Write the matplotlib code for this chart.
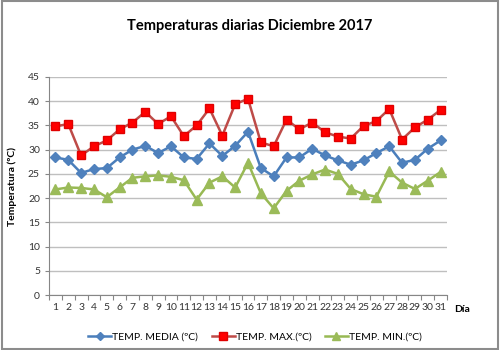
#!/usr/bin/env python3
"""Daily temperatures for December 2017: mean, max and min per day."""

import matplotlib
matplotlib.use("Agg")
import matplotlib.pyplot as plt
from matplotlib.patches import Rectangle

plt.rcParams["font.family"] = ["Lato", "DejaVu Sans"]

dias = list(range(1, 32))

temp_media = [28.4, 27.9, 25.2, 26.0, 26.2, 28.4, 30.0, 30.8, 29.3, 30.7,
              28.4, 28.1, 31.3, 28.7, 30.8, 33.7, 26.2, 24.5, 28.4, 28.4,
              30.2, 28.8, 27.8, 26.9, 27.8, 29.3, 30.7, 27.3, 27.9, 30.2, 31.9]

temp_max = [34.8, 35.3, 28.8, 30.7, 31.9, 34.2, 35.6, 37.8, 35.3, 36.9,
            32.8, 35.0, 38.5, 32.9, 39.4, 40.5, 31.5, 30.7, 36.2, 34.2,
            35.6, 33.6, 32.7, 32.3, 34.9, 35.9, 38.4, 32.1, 34.6, 36.2, 38.2]

temp_min = [21.8, 22.2, 22.1, 21.8, 20.2, 22.2, 24.2, 24.5, 24.7, 24.4,
            23.7, 19.7, 23.2, 24.5, 22.2, 27.3, 21.0, 17.9, 21.5, 23.6,
            24.9, 25.9, 25.0, 21.9, 20.8, 20.3, 25.5, 23.2, 21.9, 23.6, 25.4]

GRID = "#BFBFBF"
AXIS = "#868686"

fig = plt.figure(figsize=(5, 3.5), dpi=100)
ax = fig.add_axes([0.098, 0.157, 0.796, 0.623])

ax.plot(dias, temp_media, color="#4A7EBB", lw=1.8, marker="D", ms=5,
        mfc="#4F81BD", mec="#4F81BD", label="TEMP. MEDIA (ºC)")
ax.plot(dias, temp_max, color="#BE4B48", lw=1.8, marker="s", ms=6,
        mfc="#FF0000", mec="#E00000", label="TEMP. MAX.(ºC)")
ax.plot(dias, temp_min, color="#98B954", lw=1.8, marker="^", ms=7,
        mfc="#9BBB59", mec="#9BBB59", label="TEMP. MIN.(ºC)")

ax.set_xlim(0.5, 31.5)
ax.set_ylim(0, 45)
ax.set_yticks(range(0, 46, 5))
ax.set_xticks(dias)
ax.set_xticks([d + 0.5 for d in range(0, 32)], minor=True)
ax.tick_params(axis="x", which="major", length=0, labelsize=7.5, pad=6,
               labelcolor="#333333")
ax.tick_params(axis="x", which="minor", length=3.5, color=AXIS, width=0.8)
ax.tick_params(axis="y", length=3, color=AXIS, width=0.8, labelsize=7.5,
               labelcolor="#333333")

ax.grid(axis="y", color=GRID, lw=1.0)
ax.set_axisbelow(True)
for side in ("top", "right"):
    ax.spines[side].set_visible(False)
for side in ("left", "bottom"):
    ax.spines[side].set_color(AXIS)
    ax.spines[side].set_linewidth(0.8)

ax.set_ylabel("Temperatura (ºC)", fontsize=7.5, fontweight="bold", labelpad=8)
fig.text(0.924, 0.117, "Día", fontsize=7.5, fontweight="bold",
         ha="center", va="center")

fig.suptitle("Temperaturas diarias Diciembre 2017", fontsize=10.5,
             fontweight="bold", y=0.945)

# Legend handles short and packed, like the spreadsheet original
leg = fig.legend(loc="center", bbox_to_anchor=(0.51, 0.037), ncol=3,
                 frameon=False, fontsize=7.5, handlelength=2.2,
                 columnspacing=1.3, handletextpad=0.1, markerscale=0.85)

fig.patches.append(Rectangle((0.003, 0.004), 0.993, 0.992,
                             transform=fig.transFigure, fill=False,
                             edgecolor="#8C8C8C", lw=1.5))

fig.savefig("out.png", dpi=100)
